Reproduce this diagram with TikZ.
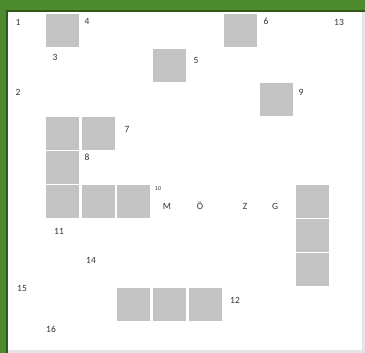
\documentclass[tikz,border=0pt]{standalone}
\usepackage{fontspec}
\setmainfont{Carlito}
\definecolor{framegreen}{HTML}{4E8A2E}
\definecolor{edgegreen}{HTML}{2F5A1A}
\definecolor{cellgray}{HTML}{C3C3C3}
\definecolor{rimgray}{HTML}{E4E4E8}
\definecolor{textgray}{HTML}{333333}
\tikzset{
  cell/.style={fill=cellgray, minimum size=33pt, inner sep=0pt, anchor=north west},
  num/.style={font=\fontsize{9.5}{11}\selectfont, text=textgray, inner sep=0pt},
  tiny/.style={font=\fontsize{6}{7}\selectfont, text=textgray, inner sep=0pt}
}
\begin{document}
\begin{tikzpicture}[x=1pt,y=-1pt]
\useasboundingbox (0,0) rectangle (365,353);
% frame
\fill[framegreen] (0,0) rectangle (365,353);
\fill[edgegreen] (6,10) rectangle (365,353);
\fill[rimgray] (8,12) rectangle (365,353);
\fill[white] (8,12) rectangle (362,350);
% cells
\node[cell] (c4) at (46,14) {};
\node[cell] (c6) at (224,14) {};
\node[cell] (c5) at (153,49) {};
\node[cell] (c9) at (260,83) {};
\node[cell] (c7a) at (46,117) {};
\node[cell] (c7b) at (82,117) {};
\node[cell] (c8) at (46,151) {};
\node[cell] (c10a) at (46,185) {};
\node[cell] (c10b) at (82,185) {};
\node[cell] (c10c) at (117,185) {};
\node[cell] (cga) at (296,185) {};
\node[cell] (cgb) at (296,219) {};
\node[cell] (cgc) at (296,253) {};
\node[cell] (c12a) at (117,288) {};
\node[cell] (c12b) at (153,288) {};
\node[cell] (c12c) at (189,288) {};
% labels
\node[num] (n1) at (18,22) {1};
\node[num] (n4) at (87,21) {4};
\node[num] (n6) at (266,21) {6};
\node[num] (n13) at (339,22) {13};
\node[num] (n3) at (55,57) {3};
\node[num] (n5) at (196,60) {5};
\node[num] (n2) at (18,92) {2};
\node[num] (n9) at (301,92) {9};
\node[num] (n7) at (127,129) {7};
\node[num] (n8) at (87,157) {8};
\node[tiny] (n10) at (158,189) {10};
\node[num] (lm) at (167,206) {M};
\node[num] (lo) at (200,206) {Ö};
\node[num] (lz) at (245,206) {Z};
\node[num] (lg) at (275,206) {G};
\node[num] (n11) at (59,231) {11};
\node[num] (n14) at (91,260) {14};
\node[num] (n15) at (22,288) {15};
\node[num] (n12) at (235,300) {12};
\node[num] (n16) at (51,329) {16};
\end{tikzpicture}
\end{document}
